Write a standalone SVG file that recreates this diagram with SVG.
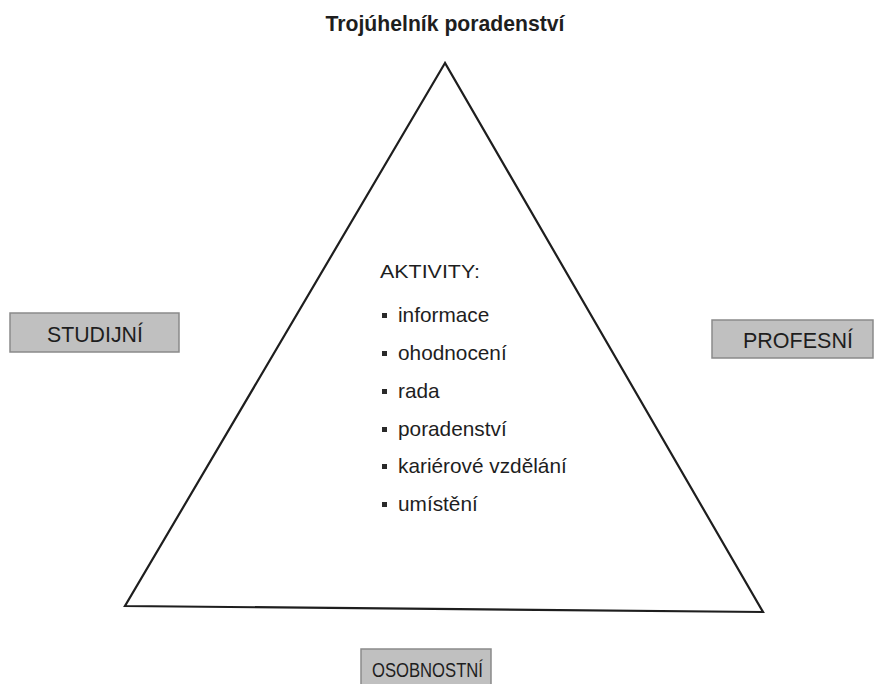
<svg xmlns="http://www.w3.org/2000/svg" width="875" height="684" viewBox="0 0 875 684">
<style>
.t{font-family:"Liberation Sans",Arial,sans-serif;fill:#1e1e1e}
.box{fill:#c0c0c0;stroke:#8a8a8a;stroke-width:1.5}
.bl{fill:#2a2a2a}
</style>
<rect width="875" height="684" fill="#ffffff"/>
<text class="t" x="445" y="31" font-size="21.2" font-weight="bold" text-anchor="middle">Trojúhelník poradenství</text>
<g id="connectors">
<polygon points="445,63 125,606 763,612" fill="none" stroke="#1e1e1e" stroke-width="2.2" stroke-linejoin="miter"/>
</g>
<g id="aktivity">
<text class="t" x="380" y="278" font-size="19" textLength="100" lengthAdjust="spacingAndGlyphs">AKTIVITY:</text>
<rect class="bl" x="382" y="313" width="5" height="5"/>
<text class="t" x="398" y="322" font-size="20.8">informace</text>
<rect class="bl" x="382" y="351" width="5" height="5"/>
<text class="t" x="398" y="360" font-size="20.8">ohodnocení</text>
<rect class="bl" x="382" y="389" width="5" height="5"/>
<text class="t" x="398" y="398" font-size="20.8">rada</text>
<rect class="bl" x="382" y="427" width="5" height="5"/>
<text class="t" x="398" y="436" font-size="20.8">poradenství</text>
<rect class="bl" x="382" y="464" width="5" height="5"/>
<text class="t" x="398" y="473" font-size="20.8">kariérové vzdělání</text>
<rect class="bl" x="382" y="502" width="5" height="5"/>
<text class="t" x="398" y="511" font-size="20.8">umístění</text>
</g>
<g id="studijni">
<rect class="box" x="10" y="313" width="169" height="39"/>
<text class="t" x="47" y="342" font-size="21.3">STUDIJNÍ</text>
</g>
<g id="profesni">
<rect class="box" x="712" y="320" width="161" height="38"/>
<text class="t" x="743" y="348" font-size="21.5">PROFESNÍ</text>
</g>
<g id="osobnostni">
<rect class="box" x="361" y="649" width="130" height="40"/>
<text class="t" x="372" y="677" font-size="19.5" textLength="111" lengthAdjust="spacingAndGlyphs">OSOBNOSTNÍ</text>
</g>
</svg>
